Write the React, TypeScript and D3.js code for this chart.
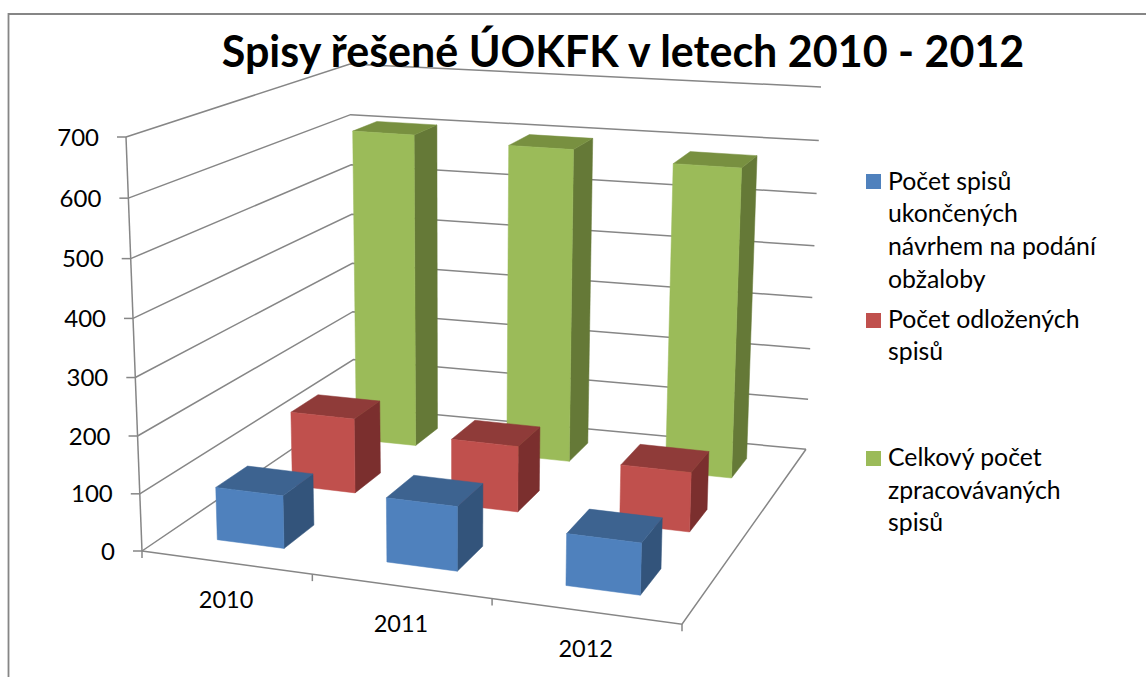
import React from "react";
import * as d3 from "d3";

// Values
const categories = ["2010", "2011", "2012"];
const seriesNames = ["ukoncene", "odlozene", "celkem"];
const ukoncene = [93, 112, 89];
const odlozene = [139, 121, 108];
const celkem = [605, 597, 583];
const seriesValues = [ukoncene, odlozene, celkem];
const yTicks = [0, 100, 200, 300, 400, 500, 600, 700];

const faceColors = [
  { front: "#4F81BD", top: "#3D6390", side: "#33547B" },
  { front: "#C0504D", top: "#8F3B39", side: "#7B2F2E" },
  { front: "#9BBB59", top: "#789040", side: "#657937" },
];

const legendItems = [
  { color: "#4F81BD", y: 174, lines: ["Počet spisů", "ukončených", "návrhem na podání", "obžaloby"], baselines: [190, 222, 255, 288] },
  { color: "#C0504D", y: 313, lines: ["Počet odložených", "spisů"], baselines: [328, 360] },
  { color: "#9BBB59", y: 451, lines: ["Celkový počet", "zpracovávaných", "spisů"], baselines: [466, 499, 531] },
];

// Screen corners of the chart box: front-left, front-right, back-right, back-left
const floorCorners = [[142, 551], [682, 624.3], [806, 449.3], [354, 407]];
const topCorners = [[126, 137], [694, 187.5], [821, 87], [350, 64]];

const FONT = "Lato, sans-serif";
const AXIS = "#868686";

// Perspective foreshortening along one box edge, k = 1 means none
const foreshorten = (k: number) => (t: number) => t / (t + k * (1 - t));
const warpU = foreshorten(1.085);
const warpV = foreshorten(1.04);
const warpW = foreshorten(0.79);

const bilinear = (c: number[][], i: number, u: number, w: number) =>
  (1 - w) * ((1 - u) * c[0][i] + u * c[1][i]) + w * ((1 - u) * c[3][i] + u * c[2][i]);

// u: along categories, v: height, w: depth (all 0..1)
const project = (u: number, v: number, w: number): [number, number] => {
  const U = warpU(u);
  const V = warpV(v);
  const W = warpW(w);
  const at = (i: number) =>
    bilinear(floorCorners, i, U, W) + (bilinear(topCorners, i, U, W) - bilinear(floorCorners, i, U, W)) * V;
  return [at(0), at(1)];
};

const uScale = d3.scaleBand<string>().domain(categories).range([0, 1]).paddingInner(0.6).paddingOuter(0.3);
const wScale = d3.scaleBand<string>().domain(seriesNames).range([0, 1]).paddingInner(0.6).paddingOuter(0.3);
const vScale = d3.scaleLinear().domain([0, 700]).range([0, 1]);
const uTicks = d3.range(categories.length + 1).map((i) => i / categories.length);

const line = d3.line();
const poly = (pts: [number, number][]) => line(pts) + "Z";

function Bar({ cat, s, value }: { cat: string; s: number; value: number }) {
  const u0 = uScale(cat)!;
  const u1 = u0 + uScale.bandwidth();
  const w0 = wScale(seriesNames[s])!;
  const w1 = w0 + wScale.bandwidth();
  const v = vScale(value);
  const c = faceColors[s];
  const faces = [
    { fill: c.side, d: poly([project(u1, 0, w0), project(u1, 0, w1), project(u1, v, w1), project(u1, v, w0)]) },
    { fill: c.top, d: poly([project(u0, v, w0), project(u1, v, w0), project(u1, v, w1), project(u0, v, w1)]) },
    { fill: c.front, d: poly([project(u0, 0, w0), project(u1, 0, w0), project(u1, v, w0), project(u0, v, w0)]) },
  ];
  return (
    <g>
      {faces.map((f, i) => (
        <path key={i} d={f.d} fill={f.fill} stroke={f.fill} strokeWidth={0.5} />
      ))}
    </g>
  );
}

export default function App() {
  // back series first so nearer bars cover farther ones
  const order = d3.range(seriesNames.length).reverse();
  const front0 = project(0, 0, 0);

  return (
    <svg
      width={1146}
      height={677}
      style={{ position: "absolute", left: 0, top: 0, display: "block", background: "#fff" }}
      fontFamily={FONT}
    >
      <path d="M8.5,677V14H1146" fill="none" stroke={AXIS} strokeWidth={1.8} />

      {/* walls */}
      {yTicks.map((t) => {
        const v = vScale(t);
        const d = line([project(0, v, 0), project(0, v, 1), project(1, v, 1)])!;
        return <path key={t} d={d} fill="none" stroke={AXIS} strokeWidth={1.5} />;
      })}
      <path
        d={line([project(1, 0, 1), project(1, 0, 0), front0])!}
        fill="none"
        stroke={AXIS}
        strokeWidth={1.5}
      />
      <path d={line([project(0, 1, 0), front0])!} fill="none" stroke={AXIS} strokeWidth={1.5} />

      {/* y axis */}
      {yTicks.map((t) => {
        const [x, y] = project(0, vScale(t), 0);
        return (
          <g key={t}>
            <line x1={x - 9} x2={x} y1={y} y2={y} stroke={AXIS} strokeWidth={1.5} />
            <text x={x - 27} y={y + 8.5} textAnchor="end" fontSize={24} fill="#000">
              {t}
            </text>
          </g>
        );
      })}

      {/* category axis */}
      {uTicks.map((u) => {
        const [x, y] = project(u, 0, 0);
        return <line key={u} x1={x} x2={x} y1={y} y2={y + 7} stroke={AXIS} strokeWidth={1.5} />;
      })}
      {categories.map((c) => {
        const [x, y] = project(uScale(c)! + uScale.bandwidth() / 2, 0, 0);
        return (
          <text key={c} x={x} y={y + 46} textAnchor="middle" fontSize={23.5} fill="#000">
            {c}
          </text>
        );
      })}

      {/* bars */}
      {order.map((s) =>
        categories.map((c, i) => <Bar key={c + s} cat={c} s={s} value={seriesValues[s][i]} />)
      )}

      <text x={623} y={67} textAnchor="middle" fontSize={43} fontWeight={700} fill="#000">
        Spisy řešené ÚOKFK v letech 2010 - 2012
      </text>

      {/* legend */}
      {legendItems.map((item) => (
        <g key={item.color}>
          <rect x={866} y={item.y} width={15} height={15} fill={item.color} />
          {item.lines.map((l, i) => (
            <text key={i} x={888} y={item.baselines[i]} fontSize={24.8} fill="#000">
              {l}
            </text>
          ))}
        </g>
      ))}
    </svg>
  );
}
